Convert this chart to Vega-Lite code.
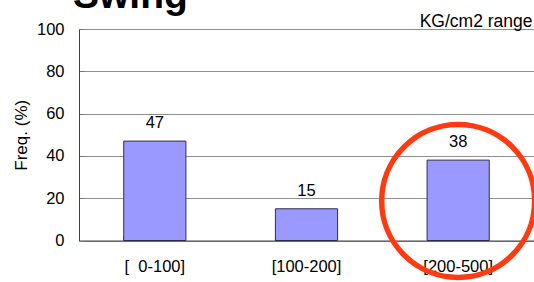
{
  "$schema": "https://vega.github.io/schema/vega-lite/v6.json",
  "width": 455,
  "height": 211.5,
  "autosize": {"type": "none"},
  "padding": {"left": 79, "top": 29, "right": 0, "bottom": 41.5},
  "background": "white",
  "title": {
    "text": "Swing",
    "font": "Liberation Sans",
    "fontSize": 39,
    "fontWeight": "bold",
    "color": "#000000",
    "anchor": "start",
    "frame": "group",
    "baseline": "alphabetic",
    "dx": -6,
    "offset": -35
  },
  "config": {
    "view": {"stroke": null},
    "font": "Liberation Sans"
  },
  "data": {
    "values": [
      {"range": "[\u00a0\u00a00-100]", "freq": 47},
      {"range": "[100-200]", "freq": 15},
      {"range": "[200-500]", "freq": 38}
    ]
  },
  "layer": [
    {
      "mark": {"type": "bar", "fill": "#9999ff", "stroke": "#2f2f4f", "strokeWidth": 1},
      "encoding": {
        "x": {
          "field": "range",
          "type": "nominal",
          "sort": null,
          "scale": {"paddingInner": 0.59, "paddingOuter": 0.295},
          "axis": {
            "title": "KG/cm2 range",
            "titleFont": "Liberation Sans",
            "titleFontSize": 17.5,
            "titleFontWeight": "normal",
            "titleColor": "#000000",
            "titleAnchor": "end",
            "titleAlign": "right",
            "titleBaseline": "alphabetic",
            "titleX": 453,
            "titleY": -214.5,
            "labelAngle": 0,
            "labelFontSize": 16.5,
            "labelColor": "#000000",
            "labelPadding": 23,
            "bandPosition": 0,
            "tickSize": -5,
            "tickColor": "#888888",
            "domainColor": "#444444",
            "grid": false
          }
        },
        "y": {
          "field": "freq",
          "type": "quantitative",
          "scale": {"domain": [0, 100], "nice": false},
          "axis": {
            "title": "Freq. (%)",
            "titleFont": "Liberation Sans",
            "titleFontSize": 17,
            "titleFontWeight": "normal",
            "titleColor": "#000000",
            "titlePadding": 6,
            "values": [0, 5, 10, 15, 20, 25, 30, 35, 40, 45, 50, 55, 60, 65, 70, 75, 80, 85, 90, 95, 100],
            "labelExpr": "datum.value % 20 === 0 ? datum.label : ''",
            "labelFontSize": 16.5,
            "labelColor": "#000000",
            "labelPadding": 20,
            "tickSize": -5,
            "tickColor": "#777777",
            "domainColor": "#444444",
            "grid": true,
            "gridColor": "#8f8f8f",
            "gridOpacity": {"condition": {"test": "datum.value % 20 === 0", "value": 1}, "value": 0}
          }
        }
      }
    },
    {
      "mark": {"type": "text", "baseline": "alphabetic", "dy": -13, "fontSize": 16.5, "color": "#000000", "font": "Liberation Sans"},
      "encoding": {
        "x": {"field": "range", "type": "nominal", "sort": null},
        "y": {"field": "freq", "type": "quantitative"},
        "text": {"field": "freq", "type": "quantitative"}
      }
    },
    {
      "data": {"values": [{"range": "[200-500]", "center": 18.7}]},
      "mark": {"type": "point", "shape": "circle", "filled": false, "stroke": "#ff3a10", "strokeWidth": 5.5, "opacity": 1, "size": 23400},
      "encoding": {
        "x": {"field": "range", "type": "nominal", "sort": null},
        "y": {"field": "center", "type": "quantitative"}
      }
    }
  ]
}
